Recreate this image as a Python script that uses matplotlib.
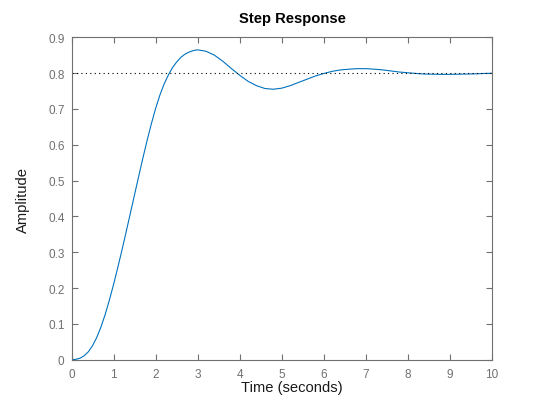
import matplotlib
matplotlib.use("Agg")
import matplotlib.pyplot as plt

plt.rcParams['font.family'] = ['Liberation Sans', 'DejaVu Sans']

# step response
time_s = [0.0, 0.1, 0.2, 0.3, 0.4, 0.5, 0.6, 0.7, 0.8, 0.9,
          1.0, 1.1, 1.2, 1.3, 1.4, 1.5, 1.6, 1.7, 1.8, 1.9,
          2.0, 2.1, 2.2, 2.3, 2.4, 2.5, 2.6, 2.7, 2.8, 2.9,
          3.0, 3.2, 3.4, 3.6, 3.8, 4.0, 4.2, 4.4, 4.6, 4.8,
          5.0, 5.2, 5.4, 5.6, 5.8, 6.0, 6.2, 6.4, 6.6, 6.8,
          7.0, 7.2, 7.4, 7.6, 7.8, 8.0, 8.2, 8.4, 8.6, 8.8,
          9.0, 9.2, 9.4, 9.6, 9.8, 10.0]
amplitude = [0.000, 0.001, 0.004, 0.011, 0.022, 0.039, 0.062, 0.091, 0.126, 0.166,
             0.210, 0.257, 0.306, 0.357, 0.409, 0.461, 0.513, 0.564, 0.613, 0.659,
             0.701, 0.738, 0.769, 0.794, 0.815, 0.831, 0.844, 0.853, 0.859, 0.863,
             0.865, 0.861, 0.850, 0.833, 0.813, 0.794, 0.777, 0.765, 0.757, 0.755,
             0.758, 0.765, 0.774, 0.783, 0.792, 0.799, 0.805, 0.809, 0.811, 0.8125,
             0.8125, 0.811, 0.809, 0.806, 0.803, 0.801, 0.799, 0.7975, 0.797, 0.7965,
             0.7965, 0.797, 0.7975, 0.798, 0.799, 0.7995]
steady_state = 0.8

x_ticks = list(range(0, 11))
y_ticks = [0, 0.1, 0.2, 0.3, 0.4, 0.5, 0.6, 0.7, 0.8, 0.9]
y_tick_labels = ['0', '0.1', '0.2', '0.3', '0.4', '0.5', '0.6', '0.7', '0.8', '0.9']

W, H = 538, 406
fig = plt.figure(figsize=(W / 100, H / 100), dpi=100)
ax = fig.add_axes([71.5 / W, (H - 360.7) / H, 420.5 / W, 322.4 / H])

ax.plot(time_s, amplitude, color='#0072BD', linewidth=0.8)
ax.axhline(steady_state, color='black', linewidth=0.8, linestyle=(0, (1, 3)))

ax.set_xlim(0, 10)
ax.set_ylim(0, 0.9)
ax.set_xticks(x_ticks)
ax.set_xticklabels([str(v) for v in x_ticks])
ax.set_yticks(y_ticks)
ax.set_yticklabels(y_tick_labels)

grey = '#707070'
ax.tick_params(direction='in', length=4, width=0.8, colors=grey, labelsize=8.5,
               top=True, right=True)
ax.tick_params(axis='x', pad=6)
ax.tick_params(axis='y', pad=5)
for s in ax.spines.values():
    s.set_color(grey)
    s.set_linewidth(0.8)

fig.text(292 / W, 1 - 19 / H, 'Step Response', ha='center', va='center',
         fontsize=10.6, fontweight='bold', color='black')
fig.text(292 / W, 1 - 388 / H, 'Time (seconds)', ha='center', va='center',
         fontsize=10.6, color='#1a1a1a')
fig.text(23 / W, 1 - 200 / H, 'Amplitude', ha='center', va='center',
         rotation=90, fontsize=10.6, color='#1a1a1a')

fig.savefig('out.png', dpi=100)
